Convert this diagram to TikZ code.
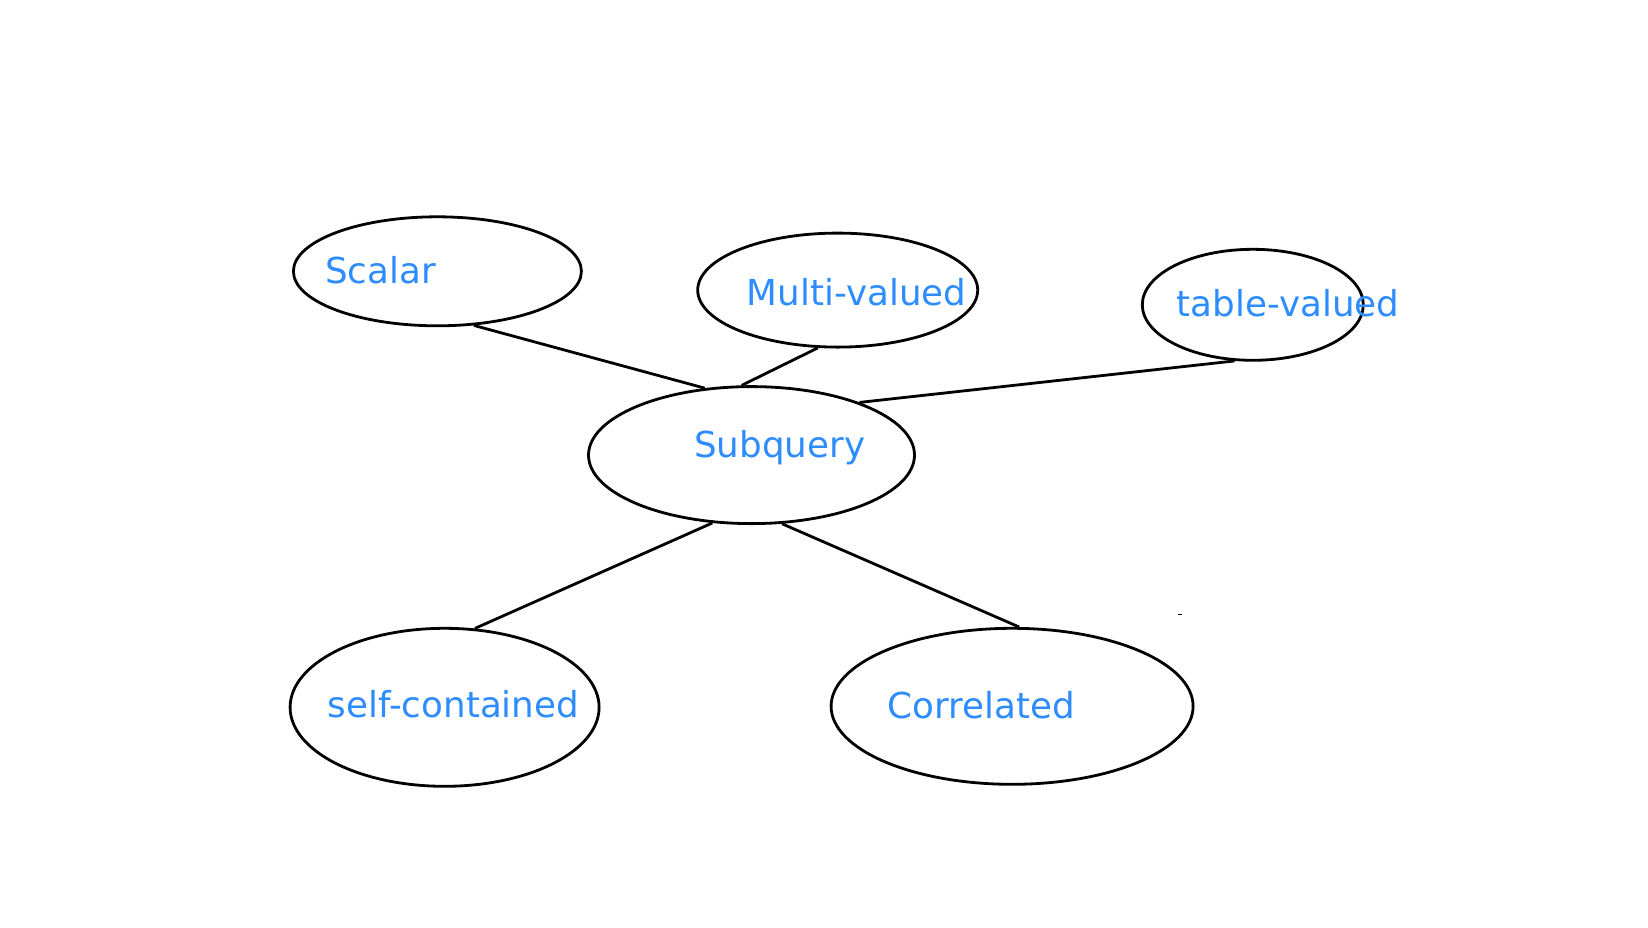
\documentclass[tikz,border=0pt]{standalone}
\usepackage{fontspec}
\setmainfont{DejaVu Sans}
\usepackage{xcolor}
\usepackage{tikz}
\usetikzlibrary{shapes.geometric}

\definecolor{kindblue}{RGB}{45,140,255}

\tikzset{
  kind/.style={draw, ellipse, line width=2.8pt, inner sep=0pt},
  kindtext/.style={anchor=base west, inner sep=0pt, text=kindblue, font=\fontsize{35.7}{42}\selectfont},
  link/.style={line width=2.8pt}
}

\begin{document}
\begin{tikzpicture}[x=1pt, y=-1pt]
\useasboundingbox (0,0) rectangle (1648,927);

\node[kind, minimum width=288pt, minimum height=109pt] (scalar) at (437.4,271.3) {};
\node[kind, minimum width=280pt, minimum height=114pt] (multi) at (837.7,290.1) {};
\node[kind, minimum width=221pt, minimum height=111pt] (table) at (1252.8,304.8) {};
\node[kind, minimum width=326pt, minimum height=137pt] (sub) at (751.5,455.1) {};
\node[kind, minimum width=309pt, minimum height=158pt] (self) at (444.6,707.3) {};
\node[kind, minimum width=362pt, minimum height=156pt] (corr) at (1012.1,706.3) {};

\node[kindtext] (scalartext) at (325,283.3) {Scalar};
\node[kindtext] (multitext) at (746.7,305.7) {Multi-valued};
\node[kindtext] (tabletext) at (1176.7,316.7) {table-valued};
\node[kindtext] (subtext) at (694,457.3) {Subquery};
\node[kindtext] (selftext) at (327.7,717.7) {self-contained};
\node[kindtext] (corrtext) at (887.7,718.3) {Correlated};

\draw[link] (scalar.-56) -- (sub.125);
\draw[link] (multi.-109) -- (sub.98);
\draw[link] (table.-108) -- (sub.26.5);
\draw[link] (sub.-120) -- (self.69);
\draw[link] (sub.-66) -- (corr.85);

% stray mark
\draw[line width=1pt] (1178,614) -- (1182,614);
\end{tikzpicture}
\end{document}
